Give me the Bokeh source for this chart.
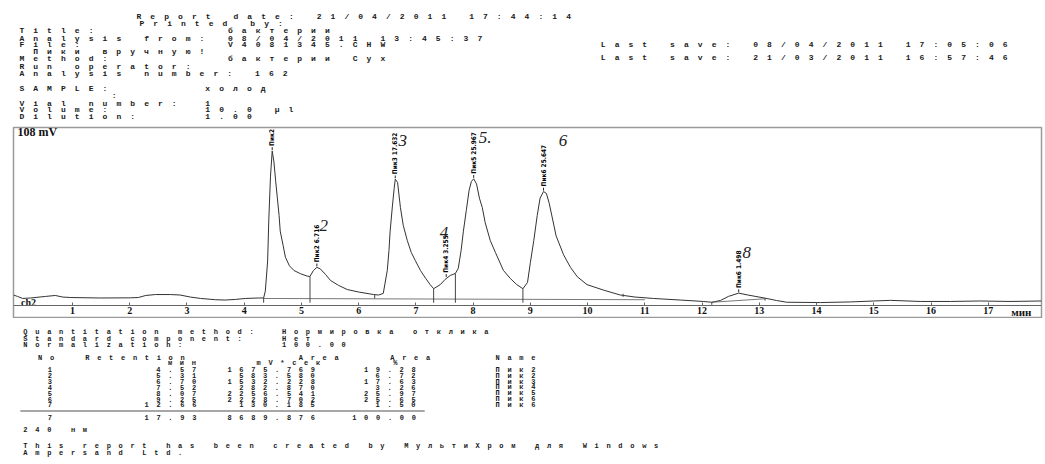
import math
from bokeh.plotting import figure
from bokeh.layouts import column
from bokeh.models import LinearAxis, FixedTicker
from bokeh.core.properties import value
from bokeh.embed import file_html
from bokeh.resources import INLINE

MONO = "Liberation Mono"
NARROW = "Liberation Sans Narrow, DejaVu Sans Condensed, Roboto Condensed, Roboto, sans-serif"

# ---------------- data: chromatogram trace (minutes, mV) ----------------
trace_t = [-0.03, 0.04, 0.13, 0.27, 0.53, 0.70, 0.83, 0.97, 1.49, 2.01, 2.15, 2.28, 2.45, 2.71, 2.88,
           3.06, 3.24, 3.50, 3.67, 3.85, 4.02, 4.25, 4.34, 4.37, 4.41, 4.43, 4.46, 4.49, 4.52, 4.55,
           4.58, 4.61, 4.63, 4.68, 4.72, 4.79, 4.87, 4.98, 5.10, 5.15, 5.21, 5.27, 5.33, 5.42, 5.51,
           5.65, 5.80, 6.00, 6.26, 6.35, 6.43, 6.50, 6.53, 6.55, 6.59, 6.62, 6.64, 6.68, 6.73, 6.78,
           6.85, 6.92, 6.99, 7.08, 7.17, 7.25, 7.31, 7.43, 7.51, 7.60, 7.69, 7.74, 7.79, 7.83, 7.88,
           7.93, 7.97, 8.01, 8.06, 8.11, 8.16, 8.21, 8.30, 8.39, 8.53, 8.65, 8.76, 8.87, 8.95, 9.00,
           9.06, 9.12, 9.17, 9.23, 9.28, 9.33, 9.38, 9.45, 9.58, 9.70, 9.82, 9.99, 10.28, 10.57, 10.83,
           11.15, 11.62, 12.02, 12.17, 12.32, 12.46, 12.64, 12.80, 13.10, 13.30, 13.48, 14.07, 14.59,
           15.29, 15.81, 16.34, 16.86, 17.38, 17.93]
trace_mv = [2.4, 1.5, 0.2, 0.5, 1.5, 2.1, 1.1, 0.8, 0.5, 0.6, 0.8, 2.1, 2.7, 2.7, 2.4,
            1.1, 0.2, -0.6, -0.8, -0.4, 0.2, 0.5, 0.5, 5.0, 24.0, 50.0, 78.0, 94.0, 87.0, 75.0,
            64.0, 53.0, 43.0, 34.0, 26.5, 21.0, 18.0, 16.0, 14.4, 14.2, 18.0, 20.0, 19.0, 15.5, 11.6,
            8.5, 5.9, 4.3, 2.7, 2.4, 3.4, 18.0, 30.7, 43.0, 59.0, 70.0, 76.0, 74.0, 58.0, 46.6,
            37.0, 29.4, 24.3, 18.0, 13.0, 9.0, 6.4, 9.1, 12.3, 14.8, 16.1, 19.3, 30.7, 43.0, 56.0,
            69.0, 74.6, 76.3, 73.0, 64.0, 58.0, 48.5, 37.0, 29.4, 18.0, 12.9, 9.1, 6.4, 10.4, 23.0,
            37.0, 53.0, 64.0, 68.2, 67.0, 60.6, 52.0, 40.0, 28.0, 20.0, 14.0, 9.0, 5.5, 2.4, 1.1,
            0.2, -0.8, -1.7, -2.2, -1.1, 1.5, 3.6, 2.4, 0.4, -1.1, -2.2, -2.4, -2.0,
            -1.0, -1.7, -1.7, -1.4, -1.7, -1.4]

# integration marks
drop_t = [4.34, 5.15, 6.28, 7.31, 7.69, 8.87, 10.62, 12.17, 13.10]
drop_top = [0.5, 14.2, 2.6, 6.4, 16.1, 6.4, 3.2, -2.2, 0.4]
drop_bot = [-2.5, -2.5, 0.2, -2.5, -2.5, -2.5, 1.2, -3.8, -1.2]
base_t = [[4.34, 11.0], [12.17, 13.10]]
base_mv = [[0.2, -0.6], [-2.2, 0.0]]

# peak annotations
peak_t = [4.49, 5.27, 6.64, 7.53, 8.01, 9.23, 12.64]
peak_mv = [94.0, 20.0, 76.0, 13.3, 76.3, 68.2, 3.6]
peak_labels = ["Пик2 19.280", "Пик2 6.716", "Пик3 17.632", "Пик4 3.255",
               "Пик5 25.967", "Пик6 25.647", "Пик6 1.498"]

# handwritten peak numbers
hand_text = ["2", "3", "4", "5.", "6", "8"]
hand_t = [5.39, 6.77, 7.49, 8.21, 9.57, 12.78]
hand_mv = [46.5, 100.6, 42.1, 102.7, 100.6, 29.6]

tick_minutes = list(range(1, 18))

# ---------------- data: report header ----------------
hdr_text = ["Report date: 21/04/2011 17:44:14", "Printed by:", "Title:", "бактерии",
            "Analysis from:", "08/04/2011 13:45:37", "File:", "V4081345.CHW",
            "Last save: 08/04/2011 17:05:06", "Пики вручную!", "Method:", "бактерии Сух",
            "Last save: 21/03/2011 16:57:46", "Run operator:", "Analysis number: 162",
            "SAMPLE:", "холод", ":", "Vial number:", "1", "Volume:", "10.0 µl",
            "Dilution:", "1.00"]
hdr_x = [125, 128, 6, 218, 6, 218, 6, 218, 597, 20, 6, 218, 597, 6, 6,
         6, 195, 100, 6, 195, 6, 195, 6, 195]
hdr_y = [15.5, 23, 30, 30, 37.5, 37.5, 44, 44, 44, 51, 58, 58, 57, 65.5, 72.5,
         87.5, 87.5, 95, 102.5, 102.5, 109, 109, 116, 116]

# ---------------- data: result table ----------------
peak_no = ["1", "2", "3", "4", "5", "6", "7"]
retention = ["4.57", "5.31", "6.70", "7.52", "8.07", "9.25", "12.66"]
area = ["1675.769", "583.580", "1532.228", "282.870", "2256.541", "2228.702", "130.185"]
area_pct = ["19.28", "6.72", "17.63", "3.26", "25.97", "25.65", "1.50"]
names = ["Пик2", "Пик2", "Пик3", "Пик4", "Пик5", "Пик6", "Пик6"]
total_row = ["7", "17.93", "8689.876", "100.00"]

ftr_text = ["Quantitation method:", "Нормировка отклика", "Standard component:", "Нет",
            "Normalization:", "100.00", "No", "Retention", "Area", "Area", "Name",
            "мин", "mV*сек", "%", "240 нм",
            "This report has been created by МультиХром для Windows", "Ampersand Ltd."]
ftr_x = [10, 273, 10, 273, 10, 273, 25, 73, 290, 383, 490,
         157, 247, 386, 10, 10, 10]
ftr_y = [331.5, 331.5, 338.3, 338.3, 344, 344, 357, 357, 357, 357, 357,
         362.7, 362.7, 362.7, 429, 445.5, 452]
row_y = [369.3, 375, 381, 386.7, 392.7, 398.7, 404.3]
total_y = 416.5

# monospace grid of the printout (page pixels per character)
H_FS, H_ADV = 8.0, 13.86
F_FS, F_ADV = 7.0, 11.9
H_LS = H_ADV - 0.6 * H_FS
F_LS = F_ADV - 0.6 * F_FS


def right_start(right, s):
    return right - (len(s) - 1) * F_ADV - 0.6 * F_FS


def center_start(c, s):
    return c - ((len(s) - 1) * F_ADV + 0.6 * F_FS) / 2


def bare(w, h, xr, yr, ls):
    f = figure(width=w, height=h, x_range=xr, y_range=yr, toolbar_location=None,
               output_backend="svg", min_border=0, x_axis_location=None,
               y_axis_location=None, outline_line_color=None,
               styles={"letter-spacing": "%.2fpx" % ls})
    f.xgrid.grid_line_color = None
    f.ygrid.grid_line_color = None
    return f


# ---------------- header ----------------
hdr = bare(1045, 126, (0, 1045), (126, 0), H_LS)
hdr.text(x=hdr_x, y=hdr_y, text=hdr_text, text_font=value(MONO), text_font_size="%gpx" % H_FS,
         text_font_style="bold", text_align="left", text_baseline="middle",
         text_color="#1a1a1a")

# ---------------- chromatogram ----------------
ch = figure(width=1045, height=192, x_range=(-0.03, 17.93), y_range=(-11.9, 108.9),
            toolbar_location=None, output_backend="svg",
            x_axis_location=None, y_axis_location=None,
            min_border_left=13, min_border_right=4, min_border_top=1, min_border_bottom=1,
            outline_line_color="#9a9a9a", outline_line_width=1.5)
ch.xgrid.grid_line_color = None
ch.ygrid.grid_line_color = None
ch.line(trace_t, trace_mv, line_color="#333333", line_width=1)
ch.multi_line(xs=base_t, ys=base_mv, line_color="#555555", line_width=0.8)
ch.segment(x0=drop_t, y0=drop_bot, x1=drop_t, y1=drop_top, line_color="#444444", line_width=1)
ch.segment(x0=peak_t, y0=[m + 0.6 for m in peak_mv], x1=peak_t, y1=[m + 2.4 for m in peak_mv],
           line_color="#222222", line_width=1)
ch.text(x=peak_t, y=[m + 3.2 for m in peak_mv], text=peak_labels, angle=math.pi / 2,
        text_align="left", text_baseline="middle",
        text_font=value(NARROW), text_font_style="bold",
        text_font_size="6.5px", text_color="#000000")
ch.text(x=hand_t, y=hand_mv, text=hand_text, text_font=value("Liberation Serif"),
        text_font_style="italic", text_font_size="17px", text_align="center",
        text_baseline="middle", text_color="#222222")
ch.text(x=[0.04], y=[106.2], text=["108 mV"], text_font=value("Liberation Serif"),
        text_font_style="bold", text_font_size="12px", text_align="left",
        text_baseline="middle", text_color="#111111")
ch.text(x=[0.1], y=[-2.6], text=["ch2"], text_font=value("Liberation Serif"),
        text_font_style="bold", text_font_size="10px", text_align="left",
        text_baseline="middle", text_color="#111111")
ch.text(x=[17.4], y=[-8.3], text=["мин"], text_font=value("Liberation Serif"),
        text_font_style="bold", text_font_size="11px", text_align="left",
        text_baseline="middle", text_color="#111111")

ax = LinearAxis(fixed_location=-4.45, ticker=FixedTicker(ticks=tick_minutes))
ax.axis_line_color = "#666666"
ax.major_tick_in = 3
ax.major_tick_out = 0
ax.major_tick_line_color = "#666666"
ax.minor_tick_line_color = None
ax.major_label_standoff = 1
ax.major_label_text_font = "Liberation Serif"
ax.major_label_text_font_style = "bold"
ax.major_label_text_font_size = "10px"
ax.major_label_text_color = "#111111"
ch.add_layout(ax, "below")

# ---------------- footer ----------------
ftr = bare(1045, 146, (0, 1045), (464, 318), F_LS)
fkw = dict(text_font=value(MONO), text_font_size="%gpx" % F_FS, text_baseline="middle",
           text_font_style="bold", text_color="#1a1a1a", text_align="left")
ftr.text(x=ftr_x, y=ftr_y, text=ftr_text, **fkw)
ftr.text(x=[center_start(37, s) for s in peak_no], y=row_y, text=peak_no, **fkw)
ftr.text(x=[right_start(185, s) for s in retention], y=row_y, text=retention, **fkw)
ftr.text(x=[right_start(305, s) for s in area], y=row_y, text=area, **fkw)
ftr.text(x=[right_start(408, s) for s in area_pct], y=row_y, text=area_pct, **fkw)
ftr.text(x=[490] * len(names), y=row_y, text=names, **fkw)
ftr.segment(x0=[7], y0=[410.5], x1=[418], y1=[410.5], line_color="#222222", line_width=0.8)
ftr.text(x=[center_start(37, total_row[0])] + [right_start(r, s) for r, s in
                                                zip([185, 305, 408], total_row[1:])],
         y=[total_y] * 4, text=total_row, **fkw)

layout = column(hdr, ch, ftr)
open("out.html", "w").write(file_html(layout, INLINE))
